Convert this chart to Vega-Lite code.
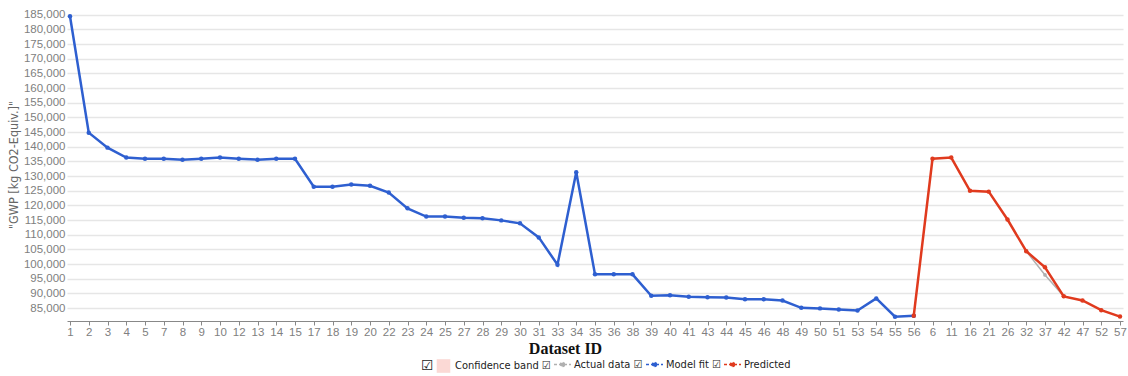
{
  "$schema": "https://vega.github.io/schema/vega-lite/v6.json",
  "autosize": {"type": "none"},
  "width": 1056,
  "height": 313,
  "padding": {"left": 67, "top": 8, "right": 5, "bottom": 55},
  "background": "white",
  "config": {
    "view": {"stroke": null},
    "font": "Liberation Sans"
  },
  "datasets": {
    "pts": [
      {"id": "1", "idx": 0, "value": 184500, "series": "Model fit"},
      {"id": "2", "idx": 1, "value": 144800, "series": "Model fit"},
      {"id": "3", "idx": 2, "value": 139700, "series": "Model fit"},
      {"id": "4", "idx": 3, "value": 136300, "series": "Model fit"},
      {"id": "5", "idx": 4, "value": 135900, "series": "Model fit"},
      {"id": "7", "idx": 5, "value": 135900, "series": "Model fit"},
      {"id": "8", "idx": 6, "value": 135600, "series": "Model fit"},
      {"id": "9", "idx": 7, "value": 135900, "series": "Model fit"},
      {"id": "10", "idx": 8, "value": 136300, "series": "Model fit"},
      {"id": "12", "idx": 9, "value": 135900, "series": "Model fit"},
      {"id": "13", "idx": 10, "value": 135600, "series": "Model fit"},
      {"id": "14", "idx": 11, "value": 135900, "series": "Model fit"},
      {"id": "15", "idx": 12, "value": 135900, "series": "Model fit"},
      {"id": "17", "idx": 13, "value": 126400, "series": "Model fit"},
      {"id": "18", "idx": 14, "value": 126400, "series": "Model fit"},
      {"id": "19", "idx": 15, "value": 127100, "series": "Model fit"},
      {"id": "20", "idx": 16, "value": 126700, "series": "Model fit"},
      {"id": "22", "idx": 17, "value": 124400, "series": "Model fit"},
      {"id": "23", "idx": 18, "value": 119000, "series": "Model fit"},
      {"id": "24", "idx": 19, "value": 116200, "series": "Model fit"},
      {"id": "25", "idx": 20, "value": 116200, "series": "Model fit"},
      {"id": "27", "idx": 21, "value": 115800, "series": "Model fit"},
      {"id": "28", "idx": 22, "value": 115600, "series": "Model fit"},
      {"id": "29", "idx": 23, "value": 114900, "series": "Model fit"},
      {"id": "30", "idx": 24, "value": 113900, "series": "Model fit"},
      {"id": "31", "idx": 25, "value": 109100, "series": "Model fit"},
      {"id": "33", "idx": 26, "value": 99800, "series": "Model fit"},
      {"id": "34", "idx": 27, "value": 131300, "series": "Model fit"},
      {"id": "35", "idx": 28, "value": 96500, "series": "Model fit"},
      {"id": "36", "idx": 29, "value": 96500, "series": "Model fit"},
      {"id": "38", "idx": 30, "value": 96500, "series": "Model fit"},
      {"id": "39", "idx": 31, "value": 89200, "series": "Model fit"},
      {"id": "40", "idx": 32, "value": 89400, "series": "Model fit"},
      {"id": "41", "idx": 33, "value": 88900, "series": "Model fit"},
      {"id": "43", "idx": 34, "value": 88700, "series": "Model fit"},
      {"id": "44", "idx": 35, "value": 88600, "series": "Model fit"},
      {"id": "45", "idx": 36, "value": 88000, "series": "Model fit"},
      {"id": "46", "idx": 37, "value": 88000, "series": "Model fit"},
      {"id": "48", "idx": 38, "value": 87600, "series": "Model fit"},
      {"id": "49", "idx": 39, "value": 85100, "series": "Model fit"},
      {"id": "50", "idx": 40, "value": 84900, "series": "Model fit"},
      {"id": "51", "idx": 41, "value": 84550, "series": "Model fit"},
      {"id": "53", "idx": 42, "value": 84150, "series": "Model fit"},
      {"id": "54", "idx": 43, "value": 88300, "series": "Model fit"},
      {"id": "55", "idx": 44, "value": 82050, "series": "Model fit"},
      {"id": "56", "idx": 45, "value": 82400, "series": "Model fit"},
      {"id": "56", "idx": 45, "value": 82400, "series": "Predicted"},
      {"id": "6", "idx": 46, "value": 135900, "series": "Predicted"},
      {"id": "11", "idx": 47, "value": 136300, "series": "Predicted"},
      {"id": "16", "idx": 48, "value": 125000, "series": "Predicted"},
      {"id": "21", "idx": 49, "value": 124700, "series": "Predicted"},
      {"id": "26", "idx": 50, "value": 115200, "series": "Predicted"},
      {"id": "32", "idx": 51, "value": 104400, "series": "Predicted"},
      {"id": "37", "idx": 52, "value": 98900, "series": "Predicted"},
      {"id": "42", "idx": 53, "value": 89000, "series": "Predicted"},
      {"id": "47", "idx": 54, "value": 87600, "series": "Predicted"},
      {"id": "52", "idx": 55, "value": 84300, "series": "Predicted"},
      {"id": "57", "idx": 56, "value": 82100, "series": "Predicted"},
      {"id": "32", "idx": 51, "value": 104400, "series": "Actual data"},
      {"id": "37", "idx": 52, "value": 96300, "series": "Actual data"},
      {"id": "42", "idx": 53, "value": 89000, "series": "Actual data"}
    ]
  },
  "data": {"name": "pts"},
  "encoding": {
    "x": {
      "field": "id",
      "type": "ordinal",
      "scale": {
        "type": "point",
        "padding": 0.16,
        "domain": ["1","2","3","4","5","7","8","9","10","12","13","14","15","17","18","19","20","22","23","24","25","27","28","29","30","31","33","34","35","36","38","39","40","41","43","44","45","46","48","49","50","51","53","54","55","56","6","11","16","21","26","32","37","42","47","52","57"]
      },
      "axis": {
        "title": "Dataset ID",
        "titleFont": "Liberation Serif",
        "titleFontSize": 16,
        "titleFontWeight": "bold",
        "titleColor": "#111",
        "titleX": 498,
        "titleY": 27,
        "titleBaseline": "middle",
        "labelAngle": 0,
        "labelFontSize": 11.5,
        "labelColor": "#808080",
        "labelPadding": 1,
        "tickSize": 4,
        "tickColor": "#888",
        "domainColor": "#888",
        "grid": false
      }
    },
    "y": {
      "field": "value",
      "type": "quantitative",
      "scale": {"domain": [80600, 187300], "nice": false, "zero": false},
      "axis": {
        "title": "\"GWP [kg CO2-Equiv.]\"",
        "titleFont": "'DejaVu Sans Condensed', 'Liberation Sans'",
        "titleFontSize": 12.5,
        "titleFontWeight": "normal",
        "titleColor": "#666",
        "titleX": -47,
        "values": [85000,90000,95000,100000,105000,110000,115000,120000,125000,130000,135000,140000,145000,150000,155000,160000,165000,170000,175000,180000,185000],
        "format": ",d",
        "labelFontSize": 11.5,
        "labelColor": "#808080",
        "labelPadding": 2,
        "ticks": false,
        "domain": false,
        "gridColor": "#e6e6e6",
        "gridWidth": 1.5
      }
    },
    "order": {"field": "idx", "type": "quantitative"},
    "color": {
      "field": "series",
      "type": "nominal",
      "scale": {
        "domain": ["Confidence band", "Actual data", "Model fit", "Predicted"],
        "range": ["#fbd9d5", "#b0b0b0", "#2e5fd0", "#e03a1e"]
      },
      "legend": {
        "orient": "none",
        "legendX": 354,
        "legendY": 351,
        "direction": "horizontal",
        "title": "☑",
        "titleOrient": "left",
        "titleAnchor": "start",
        "titleBaseline": "top",
        "titleFont": "DejaVu Sans",
        "titleFontSize": 14,
        "titleFontWeight": "normal",
        "titleColor": "#222222",
        "titlePadding": 4,
        "symbolType": "stroke",
        "symbolStrokeWidth": 2,
        "symbolSize": 289,
        "symbolDash": [3, 2],
        "labelFont": "'DejaVu Sans Condensed', 'Liberation Sans'",
        "labelFontSize": 11,
        "labelColor": "#222",
        "labelOffset": 6,
        "columnPadding": 0,
        "labelExpr": "datum.label === 'Predicted' ? datum.label : datum.label + ' ☑'",
        "encode": {
          "symbols": {
            "update": {
              "shape": {"signal": "datum.value === 'Confidence band' ? 'M-0.8,-0.8H0.8V0.8H-0.8Z M-1,-1 M1,1' : 'M-1,-1 M-1,0 L1,0 M0.24,0 A0.24,0.24 0 1 1 -0.24,0 A0.24,0.24 0 1 1 0.24,0 Z M1,1'"},
              "fill": {"signal": "scale('color', datum.value)"},
              "strokeDash": {"signal": "datum.value === 'Confidence band' ? [] : [3, 2]"},
              "strokeWidth": {"signal": "datum.value === 'Confidence band' ? 0 : 1.5"},
              "size": {"value": 289}
            }
          }
        }
      }
    }
  },
  "layer": [
    {
      "transform": [{"filter": "datum.series === 'Actual data'"}],
      "mark": {"type": "line", "strokeWidth": 1.5, "point": {"size": 14, "filled": true}}
    },
    {
      "transform": [{"filter": "datum.series === 'Model fit'"}],
      "mark": {"type": "line", "strokeWidth": 2.5, "point": {"size": 20, "filled": true}}
    },
    {
      "transform": [{"filter": "datum.series === 'Predicted'"}],
      "mark": {"type": "line", "strokeWidth": 2.5, "point": {"size": 20, "filled": true}}
    }
  ]
}
